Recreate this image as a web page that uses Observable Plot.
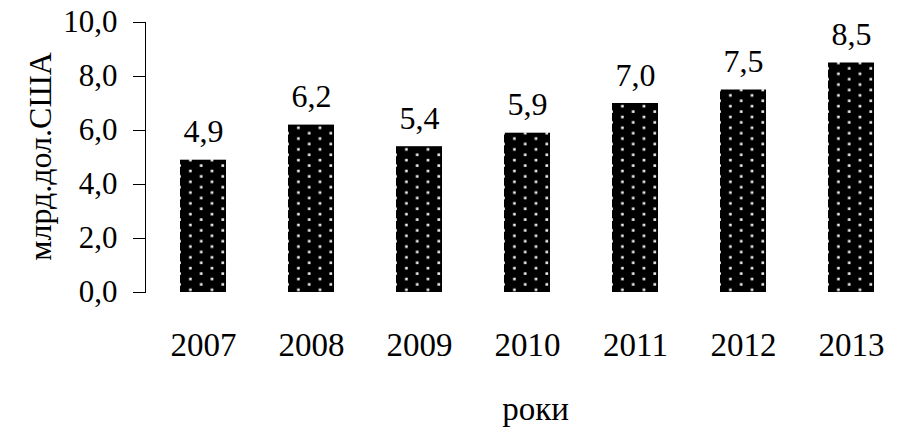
<!DOCTYPE html>
<html>
<head>
<meta charset="utf-8">
<script src="https://cdn.jsdelivr.net/npm/d3@7"></script>
<script src="https://cdn.jsdelivr.net/npm/@observablehq/plot@0.6"></script>
<style>
  html, body { margin: 0; padding: 0; background: #fff; }
  svg { display: block; }
</style>
</head>
<body>
<div id="chart"></div>
<script>
const years = ["2007", "2008", "2009", "2010", "2011", "2012", "2013"];
const values = [4.9, 6.2, 5.4, 5.9, 7.0, 7.5, 8.5];
const yTicks = [0, 2, 4, 6, 8, 10];
const yTitle = "млрд.дол.США";
const xTitle = "роки";

const data = years.map((year, i) => ({year, value: values[i]}));
const fmt = d => d.toFixed(1).replace(".", ",");
const font = "'Liberation Serif', 'Times New Roman', serif";

const defsMark = () => {
  const defs = d3.create("svg:defs");
  const p = defs.append("pattern")
    .attr("id", "dots")
    .attr("patternUnits", "userSpaceOnUse")
    .attr("x", 178).attr("y", 2)
    .attr("width", 21.6).attr("height", 10.8);
  p.append("rect").attr("width", 21.6).attr("height", 10.8).attr("fill", "#000");
  p.append("rect").attr("x", 0.3).attr("y", 0.3).attr("width", 2.6).attr("height", 2.6).attr("fill", "#f2f2f2");
  p.append("rect").attr("x", 11.1).attr("y", 5.7).attr("width", 2.6).attr("height", 2.6).attr("fill", "#f2f2f2");
  return defs.node();
};

const chart = Plot.plot({
  width: 902,
  height: 427,
  marginTop: 22,
  marginBottom: 135,
  marginLeft: 145,
  marginRight: 0,
  style: {fontFamily: font, color: "#000", background: "#fff", overflow: "visible"},
  x: {domain: years, range: [150, 902.7], paddingInner: 0.577, paddingOuter: 0.25},
  y: {domain: [0, 10]},
  marks: [
    defsMark,
    Plot.barY(data, {x: "year", y: "value", fill: "url(#dots)"}),
    Plot.frame({anchor: "left", stroke: "#000", strokeWidth: 1}),
    Plot.axisY({ticks: yTicks, tickFormat: fmt, tickSize: 12, tickPadding: 16, fontSize: 31, label: null, stroke: "#000"}),
    Plot.axisX({tickSize: 0, tickPadding: 40, fontSize: 33, label: null}),
    Plot.text(data, {x: "year", y: "value", text: d => fmt(d.value), lineAnchor: "bottom", dy: -18, fontSize: 32}),
    Plot.text([yTitle], {frameAnchor: "left", rotate: -90, textAnchor: "middle", lineAnchor: "bottom", dx: -95, dy: -1, fontSize: 32}),
    Plot.text([xTitle], {frameAnchor: "bottom", textAnchor: "middle", lineAnchor: "bottom", dx: 11.5, dy: 127, fontSize: 33})
  ]
});
document.getElementById("chart").appendChild(chart);
</script>
</body>
</html>
